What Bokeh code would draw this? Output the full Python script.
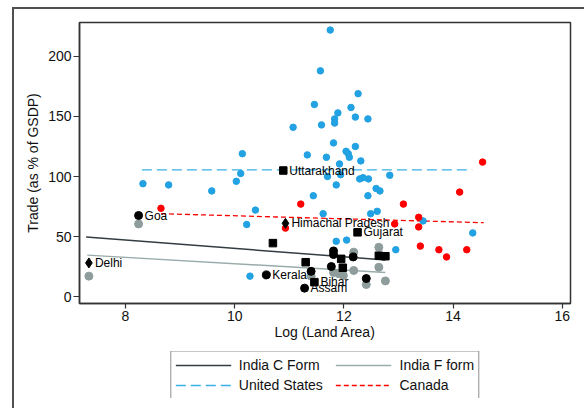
from bokeh.plotting import figure
from bokeh.layouts import column
from bokeh.models import ColumnDataSource, Legend, LegendItem, Range1d, LabelSet
from bokeh.core.properties import value
from bokeh.embed import file_html
from bokeh.resources import INLINE

# ---------------- data ----------------
us_x = [8.32, 8.79, 9.58, 10.03, 10.11, 10.14, 11.07, 11.75, 11.57, 12.26, 11.46, 12.13,
        11.89, 11.83, 12.21, 12.44, 11.83, 11.59, 11.81, 12.21, 11.33, 11.68, 12.04, 12.08,
        12.10, 12.31, 11.92, 12.84, 11.70, 11.94, 12.29, 12.35, 12.45, 11.86, 11.44, 12.44,
        12.59, 12.66, 11.62, 12.49, 12.61, 11.86, 12.05, 12.95, 13.45, 14.36, 10.38, 10.22, 10.28]
us_y = [94, 93, 88, 96, 102.5, 119, 141, 222, 188, 169, 160, 157.5,
        153, 148, 149.5, 148, 144.5, 143, 128, 125, 118, 116, 121, 119,
        116, 113, 110.5, 101, 100, 101.5, 98, 99, 98, 93, 84, 84,
        90, 88, 69, 69, 71, 46, 47, 39, 63, 53, 72, 60, 17]

ca_x = [8.65, 10.93, 11.21, 12.93, 13.09, 13.37, 13.37, 13.40, 13.74, 13.88, 14.12, 14.25, 14.54]
ca_y = [73.5, 57, 77, 60.5, 77, 66, 58, 42, 39, 33, 87, 39, 112]

# India, C form (black markers)
ic_x = [7.33, 8.24, 10.89, 10.93, 12.25, 10.58, 11.46, 11.28,
        10.70, 11.81, 11.81, 12.17, 11.95, 12.64, 12.76, 11.30, 11.40, 11.77, 11.98, 12.41]
ic_y = [28, 67.5, 105, 61, 53.5, 18, 12, 7,
        44.5, 38, 35, 33, 31.4, 34, 33.6, 28.6, 21, 25, 24, 15]
ic_marker = ["diamond", "circle", "square", "diamond", "square", "circle", "square", "circle",
             "square", "circle", "circle", "circle", "square", "square", "square", "square",
             "circle", "circle", "square", "circle"]
ic_name = ["Delhi", "Goa", "Uttarakhand", "Himachal Pradesh", "Gujarat", "Kerala", "Bihar", "Assam",
           "", "", "", "", "", "", "", "", "", "", "", ""]

# India, F form (grey markers)
if_x = [7.33, 8.24, 12.18, 12.64, 12.64, 12.18, 11.81, 11.91, 11.99, 12.41, 12.76, 11.40]
if_y = [17, 60.5, 37, 41, 24.4, 21.7, 20, 19, 17.5, 10, 13, 17]

# fitted lines (end points)
fit_c_x = [7.28, 12.76]
fit_c_y = [49.5, 30.5]
fit_f_x = [7.30, 12.76]
fit_f_y = [34.5, 20.0]
fit_us_x = [8.30, 14.35]
fit_us_y = [105.5, 105.5]
fit_ca_x = [8.65, 14.56]
fit_ca_y = [69.0, 61.5]

x_ticks = [8, 10, 12, 14, 16]
y_ticks = [0, 50, 100, 150, 200]

# ---------------- styles ----------------
FONT = "Liberation Sans"
BLUE = "#22a2e2"
RED = "#ff0000"
GREY = "#8e9c9c"
US_LINE = dict(line_color="#3ab0e6", line_width=1.3, line_dash="10 5")
CA_LINE = dict(line_color=RED, line_width=1.3, line_dash="5 3")
C_LINE = dict(line_color="#333c40", line_width=1.5)
F_LINE = dict(line_color="#9aabab", line_width=1.5)

# ---------------- main figure ----------------
p = figure(width=570, height=340, output_backend="svg", toolbar_location=None,
           x_range=Range1d(7.158, 16.15), y_range=Range1d(-5.8, 228.3),
           min_border_left=65, min_border_right=14, min_border_top=13, min_border_bottom=46)
p.grid.visible = False
p.outline_line_color = "#333333"
p.outline_line_width = 1.5
p.background_fill_color = "white"
p.border_fill_color = "white"

for ax in (p.xaxis[0], p.yaxis[0]):
    ax.axis_line_color = "#333333"
    ax.axis_line_width = 1.5
    ax.major_tick_line_color = "#333333"
    ax.major_tick_line_width = 1.2
    ax.major_tick_in = 0
    ax.minor_tick_line_color = None
    ax.major_label_text_font = FONT
    ax.major_label_text_font_size = "14px"
    ax.major_label_text_color = "#111111"
    ax.axis_label_text_font = FONT
    ax.axis_label_text_font_size = "14px"
    ax.axis_label_text_font_style = "normal"
    ax.axis_label_text_color = "#111111"

p.xaxis.ticker = x_ticks
p.yaxis.ticker = y_ticks
p.xaxis.axis_label = "Log (Land Area)"
p.yaxis.axis_label = "Trade (as % of GSDP)"
p.xaxis.major_tick_out = 5
p.yaxis.major_tick_out = 6
p.xaxis.major_label_standoff = 2
p.xaxis.axis_label_standoff = 0
p.yaxis.major_label_standoff = 2
p.yaxis.axis_label_standoff = 4
p.yaxis.major_label_orientation = "horizontal"

p.line(fit_us_x, fit_us_y, **US_LINE)
p.line(fit_ca_x, fit_ca_y, **CA_LINE)
p.line(fit_c_x, fit_c_y, **C_LINE)
p.line(fit_f_x, fit_f_y, **F_LINE)

p.scatter(us_x, us_y, marker="circle", size=6.5, fill_color=BLUE, line_color=BLUE)
p.scatter(ca_x, ca_y, marker="circle", size=6.5, fill_color=RED, line_color=RED)
p.scatter(if_x, if_y, marker="circle", size=8, fill_color=GREY, line_color=GREY)

ic_size = [{"diamond": 10, "square": 7.5, "circle": 8}[m] for m in ic_marker]
src_c = ColumnDataSource(dict(x=ic_x, y=ic_y, marker=ic_marker, size=ic_size, name=ic_name))
p.scatter("x", "y", marker="marker", size="size", source=src_c,
          fill_color="#000000", line_color="#000000")

labels = LabelSet(x="x", y="y", text="name", source=src_c, x_offset=6, y_offset=0,
                  text_baseline="middle", text_align="left", text_font=value(FONT),
                  text_font_size=value("12px"), text_color="#000000")
p.add_layout(labels)

# ---------------- key (own small figure under the plot) ----------------
q = figure(width=570, height=59, output_backend="svg", toolbar_location=None,
           x_axis_type=None, y_axis_type=None, x_range=Range1d(0, 1), y_range=Range1d(0, 1),
           min_border_left=52, min_border_right=0, min_border_top=2, min_border_bottom=10)
q.grid.visible = False
q.outline_line_color = None
q.background_fill_color = "white"
q.border_fill_color = "white"

# key glyph carriers (drawn outside the key's visible range)
k_c = q.line([5, 6], [5, 6], **C_LINE)
k_f = q.line([5, 6], [5, 6], **F_LINE)
k_us = q.line([5, 6], [5, 6], **US_LINE)
k_ca = q.line([5, 6], [5, 6], **CA_LINE)

legend = Legend(items=[LegendItem(label="India C Form", renderers=[k_c]),
                       LegendItem(label="United States\u00a0\u00a0\u00a0", renderers=[k_us]),
                       LegendItem(label="India F form", renderers=[k_f]),
                       LegendItem(label="Canada", renderers=[k_ca])],
                ncols=2, location="center")
legend.label_text_font = FONT
legend.label_text_font_size = "14px"
legend.label_text_color = "#111111"
legend.glyph_width = 56
legend.glyph_height = 19
legend.label_height = 19
legend.label_standoff = 8
legend.padding = 4
legend.spacing = 1
legend.margin = 0
legend.border_line_color = "#222222"
legend.border_line_width = 1.2
legend.background_fill_color = "white"
legend.background_fill_alpha = 1.0
q.add_layout(legend)

page = column(p, q, spacing=0)
page.styles = {"margin-left": "12px", "margin-top": "7px",
               "border-left": "2px solid #505050", "border-top": "2px solid #505050"}

open("out.html", "w").write(file_html(page, INLINE))
